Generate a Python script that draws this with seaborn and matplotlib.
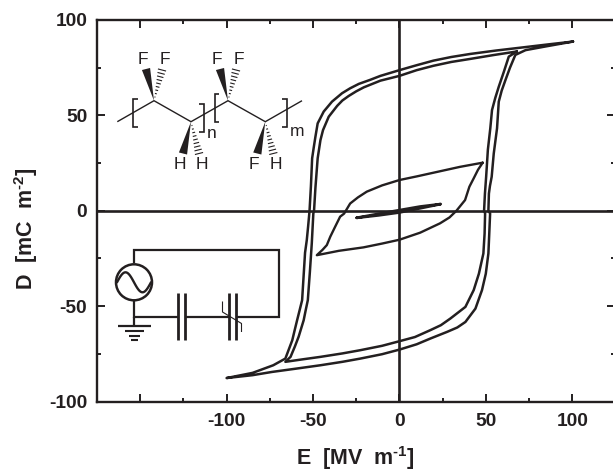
import numpy as np
import pandas as pd
import seaborn as sns
import matplotlib
matplotlib.use('Agg')
import matplotlib.pyplot as plt
from matplotlib.patches import Polygon, Circle
from matplotlib.ticker import MultipleLocator

# outer big loop
outer_e = [100.5, 86, 72, 56, 41, 30, 19.7, 10, 0, -11, -17, -23.5, -28.5, -33.2, -39, -43.8, -47.3, -48.6, -49.6, -50.5, -51.2, -52, -52.8, -53.6, -54.6, -56.3,
           -57.7, -59.2, -60.6, -62, -66, -73, -85, -100,
           -85, -73.7, -60, -45.7, -33, -22.6, -10, 0, 10, 17.9, 27.6, 33.5, 38.2, 44, 47.8, 50, 51.5, 52, 52.5, 51.5, 51.8, 52.4, 53.4, 54.6, 56.5, 57.5, 59.2, 61.4, 64, 67.1, 73, 85, 100.5]
outer_d = [88.7, 87.2, 85.7, 84, 82.2, 80.6, 78.7, 76.3, 73.7, 70.7, 68.6, 66.5, 64.2, 61.6, 57.2, 52, 45.8, 38.8, 33, 27.5, 13, 0, -8, -15.4, -22, -46.9,
           -52, -57.4, -62.6, -67.9, -77.5, -81, -85, -87.7,
           -86.2, -84.5, -82.8, -81, -79.2, -77.5, -75.2, -72.8, -70, -67, -63.5, -61.2, -58.3, -51.3, -41.6, -33, -22.4, -12, -1.4, 0, 9, 13, 17.8, 30, 43.2, 57.2, 63, 68.6, 75, 81.7, 84.2, 86.2, 88.7]

# inner big loop
inner_e = [68, 55, 41, 30, 19.7, 10, 0, -11, -20.6, -25, -29.3, -33, -36, -40.9, -44.2, -45.7, -47.3, -48.6, -49.4, -49.8, -50.7, -51.8, -53, -54.2, -55.4, -58.3, -60.5, -63, -66,
           -66, -56, -45.7, -33, -22.6, -10, 0, 9, 17.9, 24, 29.5, 38.2, 43, 46, 48.6, 49.3, 49.6, 49, 49.5, 50.2, 51.2, 52.6, 53.6, 55.5, 57.5, 60.5, 63.3, 68]
inner_d = [83.5, 81.7, 79.6, 78, 76, 73.7, 70.7, 68.2, 64.7, 62.6, 60.2, 57.8, 55, 49.3, 42.3, 37, 27.5, 12, 0, -1.4, -17, -32, -46.9, -52, -57.4, -66, -71.2, -76.6, -79.2,
           -79.2, -77.9, -76.6, -74.8, -73.1, -70.8, -68.4, -66.2, -62.6, -60, -56.5, -50.4, -41.6, -33, -22.4, -12, -1.4, 0, 9, 17.8, 32, 43.2, 52.8, 59.2, 65, 73, 80.8, 83.5]

# middle loop
mid_e = [48.2, 35, 20, 10, 0, -10, -18.9, -24, -28.5, -32, -34.3, -37.2, -40, -42, -44.5, -47.8,
         -35, -20.8, -10, 0, 12, 23.5, 29, 33, 38, 40.5, 43, 45.5, 48.2]
mid_d = [25.2, 23, 20, 18, 16.1, 13.3, 10, 7, 3.8, -1.5, -3.1, -8.4, -13.6, -18, -20.5, -23.3,
         -21, -19.2, -17.2, -15.2, -11.5, -6.6, -3.5, 0, 5.6, 12.6, 17, 21.5, 25.2]

# small loop
small_e = [-24.7, -12, 0, 12, 23.9, 12, 0, -12, -24.7]
small_d = [-3.7, -2.4, -0.9, 1.3, 3.5, 2.2, 0.3, -1.6, -3.7]

x_ticks = [-150, -100, -50, 0, 50, 100]
x_tick_labels = ['', '-100', '-50', '0', '50', '100']
y_ticks = [-100, -50, 0, 50, 100]

sns.set_theme(style='ticks')
plt.rcParams['font.family'] = ['Liberation Sans', 'DejaVu Sans']
plt.rcParams['font.weight'] = 'bold'
plt.rcParams['axes.unicode_minus'] = False
plt.rcParams['mathtext.fontset'] = 'custom'
plt.rcParams['mathtext.rm'] = 'Liberation Sans:bold'
plt.rcParams['mathtext.bf'] = 'Liberation Sans:bold'
plt.rcParams['mathtext.default'] = 'bf'

W, H = 613, 472
ink = '#231f20'
fig = plt.figure(figsize=(W / 100, H / 100), dpi=100)
# right spine lies just off the canvas, like the source
ax = fig.add_axes([97 / W, (H - 401.5) / H, 518.4 / W, 381.5 / H])

for e, d, lw in [(outer_e, outer_d, 1.8), (inner_e, inner_d, 1.8), (mid_e, mid_d, 1.7), (small_e, small_d, 2.0)]:
    df = pd.DataFrame({'E': e, 'D': d})
    sns.lineplot(data=df, x='E', y='D', sort=False, estimator=None, color=ink, lw=lw, ax=ax,
                 solid_joinstyle='round', solid_capstyle='round')

ax.axhline(0, color=ink, lw=1.9)
ax.axvline(0, color=ink, lw=1.9)

ax.set_xlim(-175, 125)
ax.set_ylim(-100, 100)
ax.set_xticks(x_ticks)
ax.set_xticklabels(x_tick_labels)
ax.set_yticks(y_ticks)
ax.xaxis.set_minor_locator(MultipleLocator(25))
ax.yaxis.set_minor_locator(MultipleLocator(25))
ax.tick_params(which='major', direction='in', length=6, width=1.4, top=True, right=True, color=ink,
               labelsize=13.8, labelcolor=ink, pad=7)
ax.tick_params(axis='x', which='major', pad=8.5)
ax.tick_params(which='minor', direction='in', length=3.2, width=1.4, top=True, right=True, color=ink)
for s in ax.spines.values():
    s.set_linewidth(1.7)
    s.set_color(ink)
ax.set_xlabel(r'E  [MV  m$^{\text{-1}}$]', fontsize=15.5, fontweight='bold', color=ink)
ax.set_ylabel(r'D  [mC  m$^{\text{-2}}$]', fontsize=15.5, fontweight='bold', color=ink)
ax.xaxis.label.set_va('baseline')
ax.xaxis.set_label_coords((355.5 - 97) / 518.4, -(465 - 401.5) / 381.5)
ax.yaxis.set_label_coords((40 - 97) / 518.4, (401.5 - 228.5) / 381.5)

# overlay in picture pixels for the molecule and the circuit sketches
ov = fig.add_axes([0, 0, 1, 1], facecolor='none')
ov.set_xlim(0, W)
ov.set_ylim(H, 0)
ov.axis('off')


def wire(xs, ys, lw=1.5):
    ov.plot(xs, ys, color=ink, lw=lw, solid_capstyle='butt', solid_joinstyle='miter')


# molecule
wire([117.3, 154, 191, 228, 265.3, 302], [121.7, 100.7, 121.7, 100.7, 121.7, 100.7], lw=1.0)
for x0, x1, y0, y1 in [(137.5, 133, 98.5, 126.5), (199, 203.5, 103.5, 131.5),
                       (219, 214.5, 94, 122), (282, 286.5, 98.5, 126.5)]:
    wire([x0, x1, x1, x0], [y0, y0, y1, y1], lw=1.2)


def wedge(x0, y0, x1, y1, hashed):
    dx, dy = x1 - x0, y1 - y0
    n = np.hypot(dx, dy)
    px, py = -dy / n, dx / n
    if not hashed:
        ov.add_patch(Polygon([(x0, y0), (x1 + 4.2 * px, y1 + 4.2 * py), (x1 - 4.2 * px, y1 - 4.2 * py)],
                             closed=True, color=ink, lw=0))
    else:
        for t in np.linspace(0.12, 1, 9):
            wd = 4.2 * t
            cx, cy = x0 + dx * t, y0 + dy * t
            wire([cx - wd * px, cx + wd * px], [cy - wd * py, cy + wd * py], lw=0.8)


for c_x, c_y, up in [(154, 100.7, True), (191, 121.7, False), (228, 100.7, True), (265.3, 121.7, False)]:
    if up:
        wedge(c_x, c_y, c_x - 8, 69, False)
        wedge(c_x, c_y, c_x + 8, 70, True)
    else:
        wedge(c_x, c_y, c_x - 8, 153.5, False)
        wedge(c_x, c_y, c_x + 8, 153.5, True)

for label, x, y in [('F', 142.7, 60), ('F', 165, 60), ('F', 217.3, 60), ('F', 239, 60),
                    ('H', 180, 164.5), ('H', 202, 164.5), ('F', 254, 164.5), ('H', 276, 164.5),
                    ('n', 211.7, 134), ('m', 296.7, 131)]:
    ov.text(x, y, label, ha='center', va='center', fontsize=12.5, fontweight='normal', color=ink)

# circuit
wire([134, 134, 279, 279, 236], [263, 250, 250, 317.3, 317.3], lw=1.6)
wire([134, 134, 178.3], [300.5, 317.3, 317.3], lw=1.6)
wire([134, 134], [317, 326], lw=1.6)
wire([186, 229], [317.3, 317.3], lw=1.6)
for xc in [178.3, 185, 229, 235.5]:
    wire([xc, xc], [293.3, 340], lw=2.0)
wire([222.5, 222.5, 241.5, 241.5], [301.5, 312, 323.5, 332], lw=0.8)
ov.add_patch(Circle((134, 282.3), 18, fill=False, ec=ink, lw=1.8))
t = np.linspace(-np.pi, np.pi, 40)
ov.plot(134 + t / np.pi * 17, 282.3 + 10 * np.sin(t), color=ink, lw=1.7)
for x0, x1, y, lw in [(118, 151, 326.3, 1.6), (125, 143.5, 331.2, 1.5), (128.5, 140, 335.5, 1.5), (131, 137.5, 340, 1.5)]:
    wire([x0, x1], [y, y], lw=lw)

fig.savefig('out.png', dpi=100)
